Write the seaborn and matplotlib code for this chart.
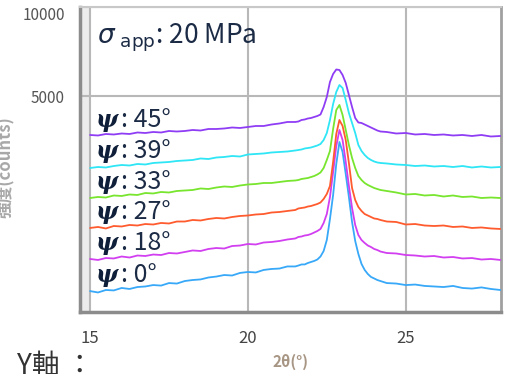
import numpy as np
import pandas as pd
import matplotlib
matplotlib.use("Agg")
import matplotlib.pyplot as plt
from matplotlib.ticker import FixedLocator, NullFormatter
import seaborn as sns

# 2θ sampling: coarse on the shoulders, fine across the reflection
two_theta = [15.00, 15.25, 15.50, 15.75, 16.00, 16.25, 16.50, 16.75, 17.00,
             17.25, 17.50, 17.75, 18.00, 18.25, 18.50, 18.75, 19.00, 19.25,
             19.50, 19.75, 20.00, 20.25, 20.50, 20.75, 21.00, 21.25, 21.50,
             21.6, 21.7, 21.8, 21.9, 22.0, 22.1, 22.2, 22.3, 22.4, 22.5,
             22.6, 22.7, 22.8, 22.9, 23.0, 23.1, 23.2, 23.3, 23.4, 23.5,
             23.6, 23.7, 23.8, 23.9, 24.0, 24.1, 24.2,
             24.4, 24.7, 25.0, 25.3, 25.6, 25.9, 26.2, 26.5, 26.8, 27.1,
             27.4, 27.7, 28.0]

psi_labels = ["0°", "18°", "27°", "33°", "39°", "45°"]

counts_psi0 = [47, 41, 52, 50, 62, 57, 67, 70, 78, 75, 90, 87, 103, 110, 114,
               128, 135, 147, 143, 164, 172, 168, 190, 199, 203, 223, 223,
               232, 243, 243, 258, 269, 280, 296, 331, 400, 557, 930, 1472,
               2355, 3107, 2752, 2047, 1422, 871, 542, 362, 248, 190, 155,
               132, 121, 110, 103,
               90, 87, 78, 81, 73, 70, 67, 73, 62, 59, 65, 57, 52]
counts_psi18 = [302, 291, 313, 308, 331, 319, 343, 337, 355, 349, 374, 368,
                387, 407, 400, 427, 440, 433, 468, 475, 497, 490, 519, 527,
                542, 565, 581,
                605, 613, 629, 637, 654, 679, 705, 741, 852, 1032, 1422, 2107,
                2962, 3561, 3180, 2419, 1707, 1163, 814, 637, 557, 512, 475,
                454, 427, 413, 393,
                374, 368, 349, 343, 331, 337, 319, 325, 308, 313, 296, 302, 291]
counts_psi27 = [759, 777, 750, 795, 786, 814, 804, 832, 823, 852, 842, 880,
                880, 910, 900, 930, 950, 940, 970, 991, 1001, 1022, 1032,
                1064, 1075, 1097, 1118,
                1152, 1163, 1174, 1196, 1208, 1231, 1254, 1289, 1373, 1497,
                1707, 2419, 3406, 3963, 3719, 3180, 2387, 1653, 1348, 1185,
                1097, 1032, 1001, 970, 940, 930, 910,
                880, 871, 823, 832, 804, 795, 804, 777, 786, 759, 768, 750, 741]
counts_psi33 = [1397, 1422, 1409, 1459, 1447, 1484, 1472, 1522, 1510, 1548,
                1535, 1574, 1587, 1600, 1640, 1626, 1666, 1693, 1680, 1720,
                1748, 1761, 1789, 1789, 1817, 1845, 1859,
                1873, 1902, 1916, 1930, 1959, 1988, 2032, 2092, 2229, 2484,
                2787, 3600, 4386, 4606, 4172, 3561, 2998, 2550, 2229, 1988,
                1873, 1789, 1734, 1693, 1653, 1626, 1600,
                1574, 1535, 1484, 1497, 1459, 1472, 1434, 1459, 1422, 1434,
                1397, 1409, 1397]
counts_psi39 = [2229, 2260, 2245, 2291, 2323, 2307, 2355, 2339, 2387, 2403,
                2419, 2451, 2467, 2484, 2533, 2516, 2566, 2583, 2616, 2599,
                2667, 2684, 2701, 2735, 2752, 2769, 2804,
                2821, 2839, 2874, 2891, 2909, 2944, 2980, 3034, 3180, 3444,
                3963, 4651, 5203, 5539, 5394, 4831, 4257, 3840, 3444, 2998,
                2787, 2650, 2550, 2484, 2435, 2403, 2387,
                2371, 2339, 2323, 2291, 2307, 2276, 2291, 2260, 2291, 2245,
                2276, 2245, 2260]
counts_psi45 = [3368, 3349, 3406, 3387, 3425, 3406, 3464, 3444, 3483, 3464,
                3522, 3502, 3522, 3561, 3541, 3600, 3600, 3620, 3659, 3640,
                3679, 3719, 3719, 3779, 3820, 3881, 3881,
                3901, 3963, 3984, 4025, 4046, 4088, 4130, 4193, 4518, 4969,
                5687, 6089, 6322, 6296, 6038, 5637, 5062, 4518, 4046, 3860,
                3840, 3779, 3719, 3659, 3600, 3541, 3502,
                3483, 3425, 3444, 3387, 3406, 3368, 3387, 3349, 3368, 3330,
                3368, 3311, 3330]

line_colors = ["#38a8f8", "#d23ff0", "#ff5b2e", "#78e52e", "#2ee6f5", "#8f3df5"]

x_major = [15, 20, 25]
x_minor = [16, 17, 18, 19, 21, 22, 23, 24, 26, 27, 28]
y_major = [5000, 10000]
y_major_labels = ["5000", "10000"]
y_minor = [1000, 2000, 3000, 4000, 6000, 7000, 8000, 9000]

sns.set_theme(style="white")
plt.rcParams["font.family"] = ["Noto Sans CJK JP", "DejaVu Sans"]
plt.rcParams["mathtext.fontset"] = "dejavusans"

series = [counts_psi0, counts_psi18, counts_psi27, counts_psi33,
          counts_psi39, counts_psi45]
df = pd.concat(
    [pd.DataFrame({"2θ": two_theta, "counts": vals, "ψ": lab})
     for lab, vals in zip(psi_labels, series)],
    ignore_index=True,
)

fig = plt.figure(figsize=(5.07, 3.74), dpi=100)
fig.patch.set_facecolor("white")
ax = fig.add_axes([0.1578, 0.1658, 0.8304, 0.8155])

# square-root intensity axis
ax.set_yscale("function",
              functions=(lambda v: np.sqrt(np.clip(v, 0, None)), np.square))

ax.axvspan(14.68, 15.0, color="#ececec", lw=0, zorder=0)

sns.lineplot(data=df, x="2θ", y="counts", hue="ψ", hue_order=psi_labels,
             palette=line_colors, errorbar=None, legend=False,
             linewidth=1.3, ax=ax, zorder=3)

ax.set_xlim(14.68, 28.02)
ax.set_ylim(0, 10000)

ax.set_xticks(x_major)
ax.xaxis.set_minor_locator(FixedLocator(x_minor))
ax.set_yticks(y_major)
ax.set_yticklabels(y_major_labels)
ax.yaxis.set_minor_locator(FixedLocator(y_minor))
ax.yaxis.set_minor_formatter(NullFormatter())

ax.tick_params(axis="x", which="major", direction="out", length=10, width=1.8,
               color="#6a6a6a", labelsize=12, labelcolor="#444444", pad=3)
ax.tick_params(axis="x", which="minor", direction="out", length=5, width=1.2,
               color="#8a8a8a")
ax.tick_params(axis="y", which="major", direction="out", length=10, width=1.8,
               color="#6a6a6a", labelsize=11, labelcolor="#555555", pad=1)
ax.tick_params(axis="y", which="minor", direction="out", length=5, width=1.2,
               color="#8a8a8a")
ax.get_yticklabels()[1].set_verticalalignment("top")

ax.grid(True, which="major", color="#b8b8b8", linewidth=1.5)
ax.set_axisbelow(True)

for side, col, lw in [("left", "#8c8c8c", 2.5), ("bottom", "#8c8c8c", 2.5),
                      ("right", "#a0a0a0", 2.0), ("top", "#c8c8c8", 1.5)]:
    ax.spines[side].set_visible(True)
    ax.spines[side].set_color(col)
    ax.spines[side].set_linewidth(lw)

ax.set_xlabel("2θ(°)", fontsize=11, color="#a89684", fontweight="bold")
ax.xaxis.set_label_coords(0.5, -0.164)
ax.xaxis.label.set_verticalalignment("center")
ax.set_ylabel("強度(counts)", fontsize=12, color="#a8a8a8", fontweight="bold")
ax.yaxis.set_label_coords(-0.176, 0.475)
ax.yaxis.label.set_verticalalignment("center")

text_color = "#1c2b45"
ax.text(0.040, 0.880, r"$\sigma_{\ \mathrm{app}}$: 20 MPa", transform=ax.transAxes,
        fontsize=19, color=text_color, va="baseline", ha="left")

label_baselines = [0.0993, 0.2033, 0.3039, 0.4023, 0.5039, 0.6075]
for lab, yb in zip(psi_labels, label_baselines):
    ax.text(0.038, yb, "ψ", transform=ax.transAxes, family="DejaVu Serif",
            fontweight="bold", fontstyle="italic", fontsize=17,
            color="#0f1f3a", va="baseline", ha="left")
    ax.text(0.098, yb, ": " + lab, transform=ax.transAxes, fontsize=18,
            color=text_color, va="baseline", ha="left")

fig.text(17 / 507, 1 - 351 / 374, "Y軸 ：", fontsize=20, color="#333333",
         va="top", ha="left")

fig.savefig("out.png", dpi=100, facecolor="white")
